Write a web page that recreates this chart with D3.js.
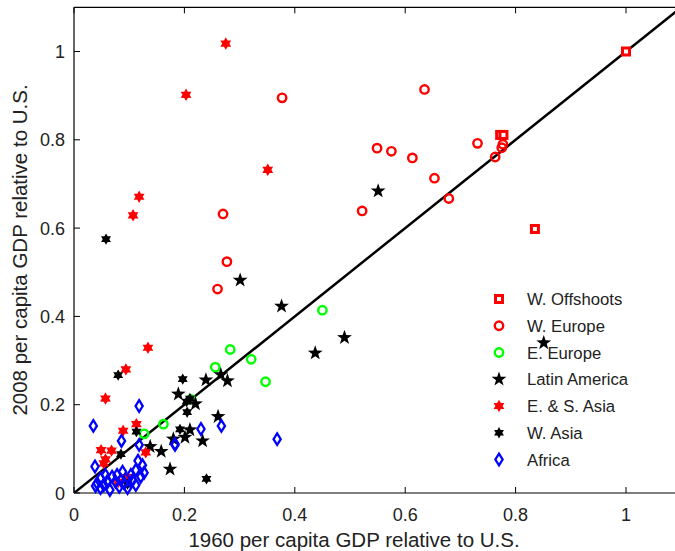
<!DOCTYPE html>
<html><head><meta charset="utf-8">
<script src="https://cdn.jsdelivr.net/npm/d3@7/dist/d3.min.js"></script>
<style>body{margin:0;background:#fff}svg{display:block}text{font-family:"Liberation Sans",Arial,Helvetica,sans-serif}</style>
</head><body>
<svg id="c" width="675" height="551"></svg>
<script>
const xTicks = [0, 0.2, 0.4, 0.6, 0.8, 1];
const yTicks = [0, 0.2, 0.4, 0.6, 0.8, 1];
const xTickLabels = ["0", "0.2", "0.4", "0.6", "0.8", "1"];
const yTickLabels = ["0", "0.2", "0.4", "0.6", "0.8", "1"];
const seriesNames = ["W. Offshoots", "W. Europe", "E. Europe", "Latin America", "E. & S. Asia", "W. Asia", "Africa"];

const wOffshoots = [[1.0,1.0],[0.772,0.811],[0.778,0.811],[0.835,0.598]];
const wEurope = [[0.635,0.914],[0.549,0.781],[0.575,0.774],[0.613,0.759],[0.653,0.713],[0.679,0.667],
  [0.731,0.792],[0.763,0.761],[0.777,0.790],[0.775,0.782],[0.522,0.639],[0.377,0.895],[0.270,0.632],
  [0.277,0.524],[0.260,0.462]];
const eEurope = [[0.450,0.414],[0.283,0.325],[0.321,0.303],[0.256,0.285],[0.347,0.252],[0.162,0.156],
  [0.212,0.212],[0.127,0.134]];
const latinAmerica = [[0.551,0.684],[0.301,0.482],[0.376,0.423],[0.437,0.317],[0.490,0.352],[0.851,0.340],
  [0.239,0.256],[0.266,0.268],[0.278,0.254],[0.189,0.224],[0.220,0.202],[0.261,0.173],[0.210,0.143],
  [0.201,0.126],[0.180,0.122],[0.233,0.118],[0.158,0.094],[0.174,0.054],[0.138,0.105]];
const esAsia = [[0.275,1.018],[0.203,0.902],[0.351,0.732],[0.118,0.671],[0.107,0.629],[0.134,0.329],
  [0.094,0.280],[0.057,0.214],[0.113,0.156],[0.089,0.141],[0.049,0.097],[0.068,0.096],[0.130,0.092],
  [0.057,0.076],[0.054,0.067],[0.095,0.036],[0.080,0.025]];
const wAsia = [[0.058,0.575],[0.080,0.267],[0.197,0.258],[0.205,0.183],[0.240,0.032],[0.113,0.139],
  [0.085,0.088],[0.097,0.020],[0.210,0.214],[0.192,0.144],[0.204,0.207]];
const africa = [[0.118,0.197],[0.035,0.152],[0.086,0.118],[0.118,0.109],[0.183,0.109],[0.038,0.060],
  [0.116,0.073],[0.124,0.063],[0.112,0.052],[0.127,0.046],[0.230,0.145],[0.267,0.152],[0.183,0.111],
  [0.368,0.122],[0.042,0.022],[0.048,0.033],[0.054,0.018],[0.060,0.026],[0.065,0.007],[0.069,0.037],
  [0.075,0.026],[0.082,0.014],[0.088,0.048],[0.091,0.022],[0.097,0.011],[0.106,0.029],[0.112,0.018],
  [0.048,0.011],[0.039,0.016],[0.057,0.041],[0.078,0.041],[0.103,0.041],[0.121,0.037],[0.085,0.029]];

const svg = d3.select("#c");
const x = d3.scaleLinear().domain([0, 1.1]).range([74, 74 + 1.1 * 552]);
const y = d3.scaleLinear().domain([0, 1.1]).range([493, 493 - 1.1 * 441.5]);

function hexagram(r){
  const p=[];
  for(let i=0;i<12;i++){const a=-Math.PI/2+i*Math.PI/6; const rr=i%2?r*0.58:r; p.push([rr*Math.cos(a),rr*Math.sin(a)]);}
  return "M"+p.map(d=>d.join(",")).join("L")+"Z";
}
function star5(r){
  const p=[];
  for(let i=0;i<10;i++){const a=-Math.PI/2+i*Math.PI/5; const rr=i%2?r*0.40:r; p.push([rr*Math.cos(a),rr*Math.sin(a)]);}
  return "M"+p.map(d=>d.join(",")).join("L")+"Z";
}
const styles = [
  {data:wOffshoots, draw:g=>g.append("rect").attr("x",-3.5).attr("y",-3.5).attr("width",7).attr("height",7).attr("fill","#fff").attr("stroke","#ff0000").attr("stroke-width",3)},
  {data:wEurope, draw:g=>g.append("circle").attr("r",4.2).attr("fill","none").attr("stroke","#ff0000").attr("stroke-width",2.4)},
  {data:eEurope, draw:g=>g.append("circle").attr("r",4.2).attr("fill","none").attr("stroke","#00ff00").attr("stroke-width",2.4)},
  {data:latinAmerica, draw:g=>g.append("path").attr("d",star5(7.8)).attr("fill","#000")},
  {data:esAsia, draw:g=>g.append("path").attr("d",hexagram(6.2)).attr("fill","#ff0000")},
  {data:wAsia, draw:g=>g.append("path").attr("d",hexagram(5.7)).attr("fill","#000")},
  {data:africa, draw:g=>g.append("path").attr("d","M0,-5.8L3.6,0L0,5.8L-3.6,0Z").attr("fill","none").attr("stroke","#0000ff").attr("stroke-width",2.3)}
];

const xr = x.range(), yr = y.range();
const frame = svg.append("g").attr("stroke","#000").attr("stroke-width",1.2);
frame.append("line").attr("x1",xr[0]).attr("x2",xr[1]).attr("y1",yr[0]).attr("y2",yr[0]);
frame.append("line").attr("x1",xr[0]).attr("x2",xr[1]).attr("y1",yr[1]).attr("y2",yr[1]);
frame.append("line").attr("x1",xr[0]).attr("x2",xr[0]).attr("y1",yr[0]).attr("y2",yr[1]);
frame.append("line").attr("x1",xr[1]).attr("x2",xr[1]).attr("y1",yr[0]).attr("y2",yr[1]);

const tl = 6;
xTicks.forEach((t,i)=>{
  svg.append("line").attr("x1",x(t)).attr("x2",x(t)).attr("y1",yr[0]).attr("y2",yr[0]-tl).attr("stroke","#000");
  svg.append("line").attr("x1",x(t)).attr("x2",x(t)).attr("y1",yr[1]).attr("y2",yr[1]+tl).attr("stroke","#000");
  svg.append("text").attr("x",x(t)).attr("y",521).attr("text-anchor","middle").attr("font-size",18).attr("fill","#222").text(xTickLabels[i]);
});
yTicks.forEach((t,i)=>{
  svg.append("line").attr("x1",xr[0]).attr("x2",xr[0]+tl).attr("y1",y(t)).attr("y2",y(t)).attr("stroke","#000");
  svg.append("line").attr("x1",xr[1]).attr("x2",xr[1]-tl).attr("y1",y(t)).attr("y2",y(t)).attr("stroke","#000");
  svg.append("text").attr("x",65).attr("y",y(t)+6.5).attr("text-anchor","end").attr("font-size",18).attr("fill","#222").text(yTickLabels[i]);
});
svg.append("text").attr("x",354).attr("y",547).attr("text-anchor","middle").attr("font-size",20.5).attr("fill","#222").text("1960 per capita GDP relative to U.S.");
svg.append("text").attr("transform","translate(27,250) rotate(-90)").attr("text-anchor","middle").attr("font-size",20.5).attr("fill","#222").text("2008 per capita GDP relative to U.S.");

svg.append("defs").append("clipPath").attr("id","clip").append("rect").attr("x",xr[0]).attr("y",yr[1]).attr("width",xr[1]-xr[0]).attr("height",yr[0]-yr[1]);
svg.append("line").attr("clip-path","url(#clip)").attr("x1",x(0)).attr("y1",y(0)).attr("x2",x(1.1)).attr("y2",y(1.1)).attr("stroke","#000").attr("stroke-width",2.5);

styles.forEach(s=>{
  svg.append("g").selectAll("g").data(s.data).join("g")
    .attr("transform",d=>`translate(${x(d[0])},${y(d[1])})`)
    .each(function(){ s.draw(d3.select(this)); });
});

const ly = d3.scalePoint().domain(seriesNames).range([299, 459.5]);
seriesNames.forEach((n,i)=>{
  const g = svg.append("g").attr("transform",`translate(499,${ly(n)})`);
  styles[i].draw(g);
  svg.append("text").attr("x",527).attr("y",ly(n)+6).attr("font-size",16.7).attr("fill","#222").text(n);
});
</script>
</body></html>
